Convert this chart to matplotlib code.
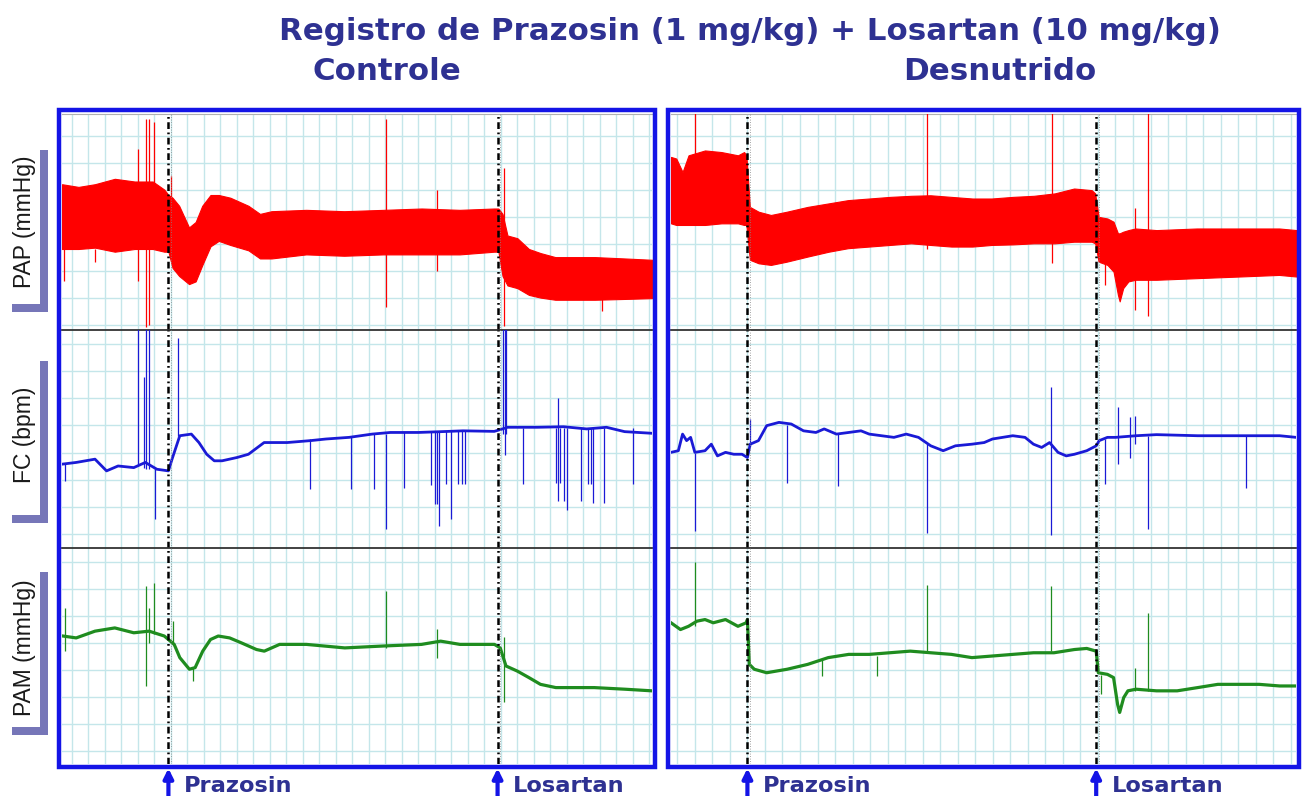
import numpy as np
import matplotlib
matplotlib.use('Agg')
import matplotlib.pyplot as plt
from matplotlib.patches import Rectangle

W, H = 1305, 796

# ------------------------------------------------------------------
# DATA  (time in chart-grid cells, signal in chart-grid rows)
# ------------------------------------------------------------------
title = 'Registro de Prazosin (1 mg/kg) + Losartan (10 mg/kg)'
group_names = ['Controle', 'Desnutrido']
drug_names = ['Prazosin', 'Losartan']
channel_labels = ['PAP (mmHg)', 'FC (bpm)', 'PAM (mmHg)']

ctrl_drug_t = [6.45, 26.4]
desn_drug_t = [4.36, 24.26]

# ---- Controle : PAP envelope ----
ctrl_pap_t = [0.0, 1.0, 2.0, 3.2, 4.4, 5.5, 6.2, 6.45, 6.7, 7.1, 7.7, 8.1, 8.5, 9.0, 9.5,
              10.2, 11.3, 12.0, 12.7, 14.8, 17.1, 19.5, 21.8, 24.1, 26.2, 26.45, 26.7,
              27.0, 27.6, 28.3, 29.0, 29.9, 32.3, 34.1, 35.8]
ctrl_pap_hi = [5.4, 5.3, 5.4, 5.6, 5.5, 5.5, 5.2, 5.0, 4.9, 4.6, 3.8, 4.0, 4.6, 5.0, 5.0,
               4.9, 4.6, 4.3, 4.4, 4.45, 4.4, 4.45, 4.5, 4.45, 4.5, 4.5, 4.3,
               3.5, 3.4, 3.0, 2.85, 2.7, 2.7, 2.65, 2.6]
ctrl_pap_lo = [3.0, 3.0, 3.05, 2.9, 3.0, 3.0, 2.9, 2.9, 2.3, 2.0, 1.7, 1.8, 2.4, 3.1, 3.3,
               3.15, 2.95, 2.65, 2.65, 2.8, 2.75, 2.8, 2.8, 2.8, 2.9, 2.9, 2.0,
               1.65, 1.55, 1.3, 1.2, 1.12, 1.12, 1.15, 1.18]
ctrl_pap_spk_t = [0.15, 2.0, 4.6, 5.1, 5.3, 5.6, 6.6, 19.65, 22.7, 26.8, 32.7]
ctrl_pap_spk_hi = [3.0, 3.0, 6.7, 7.8, 7.8, 7.7, 5.7, 7.8, 5.2, 6.0, 1.5]
ctrl_pap_spk_lo = [1.8, 2.5, 1.8, 0.1, 0.2, 5.0, 4.5, 0.87, 2.2, 0.13, 0.7]

# ---- Controle : FC ----
ctrl_fc_t = [0.05, 0.86, 2.0, 2.7, 3.4, 4.35, 5.05, 5.75, 6.45, 6.67, 7.14, 7.84, 8.3,
             8.77, 9.23, 9.7, 10.6, 11.3, 12.25, 13.65, 15.05, 16.0, 17.4, 18.8, 19.9,
             21.6, 23.0, 24.3, 26.2, 26.7, 27.0, 28.8, 30.4, 31.8, 33.0, 34.1, 35.75]
ctrl_fc_v = [3.08, 3.14, 3.26, 2.83, 3.01, 2.95, 3.14, 2.89, 2.83, 3.26, 4.12, 4.18, 3.87,
             3.44, 3.2, 3.2, 3.32, 3.44, 3.87, 3.87, 3.94, 4.0, 4.06, 4.18, 4.24,
             4.24, 4.27, 4.3, 4.28, 4.37, 4.43, 4.43, 4.45, 4.37, 4.43, 4.27, 4.21]
ctrl_fc_spk_t = [0.16, 4.58, 5.0, 5.1, 5.28, 5.63, 7.02, 26.75, 26.85, 26.9,
                 15.05, 17.5, 18.9, 19.65, 20.74, 22.37, 22.6, 22.7, 22.84, 23.3, 23.6,
                 24.0, 24.23, 24.4, 27.95, 29.93, 30.05, 30.2, 30.4, 30.63, 31.44,
                 31.9, 32.07, 32.2, 32.84, 34.58]
ctrl_fc_spk_hi = [3.1, 8.2, 6.27, 8.2, 8.2, 2.9, 7.7, 8.2, 8.2, 8.2,
                  4.0, 4.1, 4.2, 4.2, 4.25, 4.3, 4.3, 4.3, 4.3, 4.3, 4.3,
                  4.3, 4.3, 4.3, 4.4, 4.4, 5.5, 4.4, 4.4, 4.4, 4.4,
                  4.4, 4.4, 4.4, 4.4, 4.4]
ctrl_fc_spk_lo = [2.46, 3.1, 2.95, 2.9, 2.9, 1.05, 4.1, 4.2, 3.4, 4.2,
                  2.15, 2.15, 2.15, 0.68, 2.2, 2.3, 1.6, 1.6, 0.8, 2.34, 1.05,
                  2.34, 2.34, 2.34, 2.34, 2.4, 1.72, 2.4, 1.72, 1.41, 1.72,
                  2.34, 2.34, 1.66, 1.66, 2.34]

# ---- Controle : PAM ----
ctrl_pam_t = [0.05, 0.86, 2.0, 3.2, 4.35, 5.28, 6.2, 6.45, 6.8, 7.14, 7.72, 8.07, 8.53,
              9.0, 9.47, 10.16, 10.86, 11.79, 12.26, 13.19, 14.81, 17.14, 19.47, 21.79,
              22.95, 24.12, 26.21, 26.56, 26.91, 27.6, 28.3, 29.0, 29.93, 32.26, 34.12, 35.75]
ctrl_pam_v = [4.74, 4.67, 4.92, 5.04, 4.86, 4.92, 4.74, 4.61, 4.43, 3.94, 3.51, 3.57, 4.18,
              4.61, 4.74, 4.67, 4.49, 4.24, 4.18, 4.43, 4.43, 4.3, 4.37, 4.43,
              4.55, 4.43, 4.43, 4.3, 3.63, 3.44, 3.2, 2.95, 2.83, 2.83, 2.77, 2.71]
ctrl_pam_spk_t = [0.16, 5.1, 5.28, 5.6, 6.7, 7.95, 19.65, 22.7, 26.8]
ctrl_pam_spk_hi = [5.78, 6.58, 5.78, 6.7, 5.3, 3.6, 6.4, 5.0, 4.7]
ctrl_pam_spk_lo = [4.18, 2.9, 4.5, 4.8, 4.4, 3.07, 4.3, 3.94, 2.28]

# ---- Desnutrido : PAP envelope ----
desn_pap_t = [0.0, 0.3, 0.66, 1.0, 1.94, 2.88, 3.82, 4.17, 4.3, 4.5, 5.0, 5.7, 6.6, 7.8,
              9.0, 10.1, 11.3, 12.5, 13.7, 14.8, 16.0, 17.2, 18.3, 19.5, 20.7, 21.9,
              23.0, 24.0, 24.2, 24.4, 24.9, 25.25, 25.5, 25.6, 25.8, 26.1, 26.5, 27.7,
              30.0, 32.4, 34.7, 35.7]
desn_pap_hi = [6.41, 6.35, 5.85, 6.47, 6.65, 6.59, 6.47, 6.59, 6.47, 4.56, 4.38, 4.26, 4.38,
               4.56, 4.69, 4.81, 4.87, 4.93, 4.97, 4.99, 4.93, 4.87, 4.87, 4.93, 4.97,
               5.06, 5.24, 5.18, 5.06, 4.19, 4.13, 4.01, 3.58, 3.58, 3.64, 3.7, 3.76,
               3.7, 3.76, 3.76, 3.76, 3.7]
desn_pap_lo = [3.95, 3.89, 3.89, 3.89, 3.89, 3.95, 3.95, 3.89, 3.89, 2.6, 2.47, 2.41, 2.53,
               2.72, 2.9, 3.03, 3.09, 3.15, 3.21, 3.15, 3.09, 3.09, 3.15, 3.17, 3.21,
               3.21, 3.27, 3.27, 3.21, 2.53, 2.41, 2.16, 1.3, 1.06, 1.55, 1.8, 1.86,
               1.86, 1.92, 1.98, 2.04, 1.98]
desn_pap_spk_t = [1.36, 14.6, 21.73, 27.19, 26.46, 24.78]
desn_pap_spk_hi = [8.1, 8.1, 8.1, 8.1, 4.5, 2.5]
desn_pap_spk_lo = [6.4, 3.0, 2.47, 0.5, 0.75, 1.67]

# ---- Desnutrido : FC ----
desn_fc_t = [0.0, 0.42, 0.66, 0.89, 1.12, 1.36, 1.94, 2.3, 2.65, 3.11, 3.58, 4.05, 4.36,
             4.52, 4.99, 5.46, 6.16, 6.86, 7.56, 8.27, 8.74, 9.44, 10.14, 10.84, 11.31,
             12.01, 12.72, 13.42, 14.12, 14.82, 15.53, 16.23, 17.17, 17.87, 18.34, 19.5,
             20.2, 20.68, 21.15, 21.6, 22.08, 22.55, 23.02, 23.72, 24.26, 24.43, 24.9,
             25.36, 26.53, 27.7, 30.05, 32.39, 34.73, 35.67]
desn_fc_v = [3.51, 3.57, 4.18, 3.94, 4.06, 3.51, 3.57, 3.81, 3.38, 3.51, 3.44, 3.44, 3.32,
             3.81, 3.94, 4.49, 4.61, 4.55, 4.3, 4.24, 4.37, 4.18, 4.24, 4.3, 4.18,
             4.12, 4.06, 4.18, 4.06, 3.75, 3.57, 3.75, 3.81, 3.87, 4.0, 4.12,
             4.06, 3.81, 3.69, 3.87, 3.51, 3.38, 3.44, 3.57, 3.75, 3.94, 4.06,
             4.06, 4.12, 4.16, 4.12, 4.12, 4.12, 4.06]
desn_fc_spk_t = [1.36, 4.52, 6.63, 9.51, 14.6, 21.69, 24.78, 25.48, 26.18, 26.46, 27.19, 32.81]
desn_fc_spk_hi = [3.5, 4.74, 4.5, 4.2, 3.8, 5.9, 4.0, 5.17, 4.8, 4.85, 4.1, 4.1]
desn_fc_spk_lo = [0.62, 3.8, 2.4, 2.28, 0.55, 0.49, 2.34, 3.08, 3.3, 3.8, 0.68, 2.21]

# ---- Desnutrido : PAM ----
desn_pam_t = [0.0, 0.54, 1.0, 1.48, 1.94, 2.41, 3.11, 3.82, 4.29, 4.36, 4.47, 4.75, 5.46,
              6.63, 7.8, 8.97, 10.14, 11.31, 12.48, 13.65, 14.82, 16.0, 17.17, 18.34,
              19.5, 20.68, 21.85, 23.02, 23.72, 24.26, 24.38, 24.9, 25.25, 25.48, 25.6,
              25.83, 26.07, 26.53, 27.7, 28.88, 30.05, 31.2, 32.39, 33.56, 34.73, 35.67]
desn_pam_v = [5.23, 4.98, 5.1, 5.29, 5.35, 5.23, 5.35, 5.1, 5.23, 5.35, 3.69, 3.51, 3.38,
              3.51, 3.69, 3.94, 4.06, 4.06, 4.12, 4.18, 4.12, 4.06, 3.94, 4.0,
              4.06, 4.12, 4.12, 4.24, 4.28, 4.18, 3.38, 3.32, 3.2, 2.21, 1.91,
              2.46, 2.71, 2.77, 2.71, 2.71, 2.83, 2.95, 2.95, 2.95, 2.89, 2.89]
desn_pam_spk_t = [1.36, 14.6, 21.69, 27.19, 26.46, 8.62, 11.78, 24.54]
desn_pam_spk_hi = [7.5, 6.64, 6.58, 5.6, 3.57, 3.9, 4.0, 3.3]
desn_pam_spk_lo = [5.1, 4.1, 4.2, 2.7, 2.7, 3.26, 3.26, 2.6]

# ------------------------------------------------------------------
# STYLE / LAYOUT
# ------------------------------------------------------------------
NAVY = '#2e3192'
FRAME_BLUE = '#1414e6'
GRID_C = '#c4e6ea'
BRACKET_C = '#7676b8'
RED = '#ff0000'
BLUE = '#1a1ad6'
GREEN = '#1f8c1f'

fig = plt.figure(figsize=(W / 100, H / 100), dpi=100)
fig.patch.set_facecolor('white')


def rect(x0, y0, x1, y1):
    return [x0 / W, 1 - y1 / H, (x1 - x0) / W, (y1 - y0) / H]


row_px = [(114, 330), (330, 548), (548, 764)]
row_goff = [0.2, 0.5, 0.5]

panels = [
    dict(x0=62, x1=652, xmax=35.76, xoff=0.6, drug_t=ctrl_drug_t,
         pap=(ctrl_pap_t, ctrl_pap_hi, ctrl_pap_lo, ctrl_pap_spk_t, ctrl_pap_spk_hi, ctrl_pap_spk_lo),
         fc=(ctrl_fc_t, ctrl_fc_v, ctrl_fc_spk_t, ctrl_fc_spk_hi, ctrl_fc_spk_lo),
         pam=(ctrl_pam_t, ctrl_pam_v, ctrl_pam_spk_t, ctrl_pam_spk_hi, ctrl_pam_spk_lo)),
    dict(x0=671, x1=1296, xmax=35.66, xoff=0.36, drug_t=desn_drug_t,
         pap=(desn_pap_t, desn_pap_hi, desn_pap_lo, desn_pap_spk_t, desn_pap_spk_hi, desn_pap_spk_lo),
         fc=(desn_fc_t, desn_fc_v, desn_fc_spk_t, desn_fc_spk_hi, desn_fc_spk_lo),
         pam=(desn_pam_t, desn_pam_v, desn_pam_spk_t, desn_pam_spk_hi, desn_pam_spk_lo)),
]

for p in panels:
    axes = []
    for r, (y0, y1) in enumerate(row_px):
        ax = fig.add_axes(rect(p['x0'], y0, p['x1'], y1))
        ax.set_xlim(0, p['xmax'])
        ax.set_ylim(0, 8)
        ax.set_xticks(np.arange(p['xoff'], p['xmax'], 1.0))
        ax.set_yticks(np.arange(row_goff[r], 8, 1.0))
        ax.tick_params(length=0, labelbottom=False, labelleft=False)
        ax.grid(True, color=GRID_C, lw=1.0)
        ax.set_axisbelow(True)
        for s in ['left', 'right', 'bottom']:
            ax.spines[s].set_visible(False)
        if r == 0:
            ax.spines['top'].set_color('#b0b0b0')
            ax.spines['top'].set_linewidth(0.8)
        else:
            ax.spines['top'].set_color('#333333')
            ax.spines['top'].set_linewidth(1.3)
        for dt in p['drug_t']:
            ax.axvline(dt, color='black', lw=1.8, ls=(0, (2.7, 1.4, 0.7, 1.4)), zorder=5)
            ax.axvline(dt + 0.15, color='#888888', lw=0.6, ls=(0, (1, 2)), zorder=5)
        axes.append(ax)

    # PAP
    t, hi, lo, st, sh, sl = p['pap']
    axes[0].fill_between(t, lo, hi, color=RED, lw=0.8, edgecolor=RED, zorder=3)
    axes[0].vlines(st, sl, sh, color=RED, lw=0.9, zorder=3)
    # FC
    t, v, st, sh, sl = p['fc']
    axes[1].vlines(st, sl, sh, color=BLUE, lw=0.9, zorder=3)
    axes[1].plot(t, v, color=BLUE, lw=2.0, zorder=4)
    # PAM
    t, v, st, sh, sl = p['pam']
    axes[2].vlines(st, sl, sh, color=GREEN, lw=0.9, zorder=3)
    axes[2].plot(t, v, color=GREEN, lw=2.3, zorder=4)

    # drug arrows + labels under the bottom axes
    for dt, name in zip(p['drug_t'], drug_names):
        axes[2].annotate('', xy=(dt, -0.02), xytext=(dt, -0.16),
                         xycoords=('data', 'axes fraction'),
                         textcoords=('data', 'axes fraction'),
                         arrowprops=dict(arrowstyle='-|>', color=FRAME_BLUE, lw=3,
                                         mutation_scale=14, shrinkA=0, shrinkB=0),
                         annotation_clip=False)
        axes[2].annotate(name, xy=(dt, -0.1), xycoords=('data', 'axes fraction'),
                         xytext=(11, 0), textcoords='offset points',
                         ha='left', va='center', fontsize=16.2, fontweight='bold',
                         color=NAVY, family='DejaVu Sans', annotation_clip=False)

# decoration overlay (frames, brackets)
deco = fig.add_axes([0, 0, 1, 1], zorder=20)
deco.set_xlim(0, W)
deco.set_ylim(H, 0)
deco.axis('off')
deco.patch.set_alpha(0)
deco.add_patch(Rectangle((59, 110), 596, 657, fill=False, ec=FRAME_BLUE, lw=3.2))
deco.add_patch(Rectangle((668, 110), 631, 657, fill=False, ec=FRAME_BLUE, lw=3.2))

brackets = [(150, 312), (361, 523), (572, 735)]
label_y = [222, 435, 648]
for (b0, b1), ly, lab in zip(brackets, label_y, channel_labels):
    deco.add_patch(Rectangle((40, b0), 8, b1 - b0, color=BRACKET_C, lw=0))
    deco.add_patch(Rectangle((12, b1 - 8), 36, 8, color=BRACKET_C, lw=0))
    fig.text(25 / W, 1 - ly / H, lab, rotation=90, ha='center', va='center',
             fontsize=16.5, color='#1a1a1a', family='Liberation Sans')

fig.text(750 / W, 1 - 32 / H, title, ha='center', va='center', fontsize=22.2,
         fontweight='bold', color=NAVY, family='DejaVu Sans')
fig.text(387 / W, 1 - 72 / H, group_names[0], ha='center', va='center', fontsize=22.2,
         fontweight='bold', color=NAVY, family='DejaVu Sans')
fig.text(1000 / W, 1 - 72 / H, group_names[1], ha='center', va='center', fontsize=22.2,
         fontweight='bold', color=NAVY, family='DejaVu Sans')

fig.savefig('out.png', dpi=100, facecolor='white')
